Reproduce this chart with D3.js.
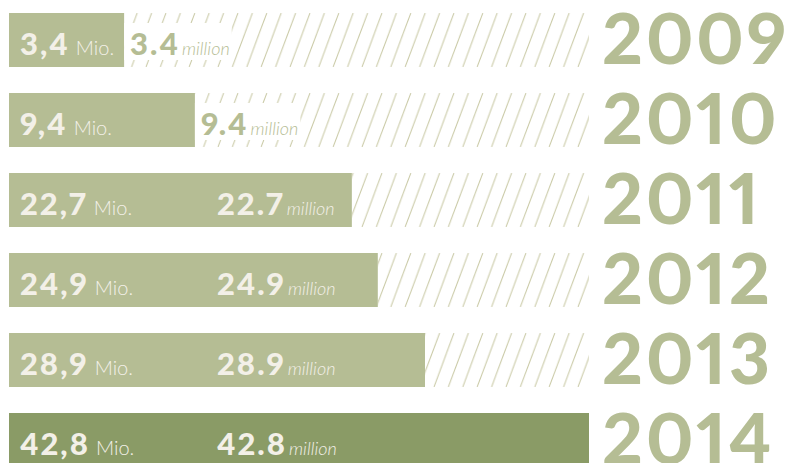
<!DOCTYPE html>
<html>
<head>
<meta charset="utf-8">
<script src="https://cdn.jsdelivr.net/npm/d3@7"></script>
<style>
  body { margin: 0; background: #fff; }
  svg text { font-family: 'Lato', sans-serif; font-variant-numeric: proportional-nums; }
</style>
</head>
<body>
<div id="chart"></div>
<script>
// values in millions
let years = ['2009', '2010', '2011', '2012', '2013', '2014']
let values = [3.4, 9.4, 22.7, 24.9, 28.9, 42.8]
let labelsDe = ['3,4', '9,4', '22,7', '24,9', '28,9', '42,8']
let labelsEn = ['3.4', '9.4', '22.7', '24.9', '28.9', '42.8']

let width = 795
let height = 463

let light = '#b5bd94'
let dark = '#8a9b66'
let cream = '#f3f0e8'

let svg = d3
  .select('#chart')
  .append('svg')
  .attr('width', width)
  .attr('height', height)

let x = d3.scaleLinear().domain([0, 42.8]).range([84, 589])
let y = d3.scaleBand().domain(years).range([13, 467]).paddingInner(0.325).paddingOuter(0)
let bh = y.bandwidth()

// hatch pattern
let pat = svg.append('defs')
  .append('pattern')
  .attr('id', 'hatch')
  .attr('patternUnits', 'userSpaceOnUse')
  .attr('width', 14.4)
  .attr('height', bh)

pat.selectAll('line')
  .data([-1, 0, 1])
  .enter()
  .append('line')
  .attr('x1', d => d * 14.4 + 2)
  .attr('y1', bh)
  .attr('x2', d => d * 14.4 + 22)
  .attr('y2', 0)
  .attr('stroke', '#c9c9a5')
  .attr('stroke-width', 1)

let data = years.map((yr, i) => ({
  year: yr, value: values[i], de: labelsDe[i], en: labelsEn[i]
}))

let rows = svg.selectAll('.row')
  .data(data)
  .enter()
  .append('g')
  .attr('class', 'row')
  .attr('transform', d => 'translate(0,' + y(d.year) + ')')

// hatched remainder
rows.append('rect')
  .attr('x', d => x(d.value))
  .attr('y', 0)
  .attr('width', d => x(42.8) - x(d.value))
  .attr('height', bh)
  .attr('fill', 'url(#hatch)')

// bars
rows.append('rect')
  .attr('x', 9)
  .attr('y', 0)
  .attr('width', d => x(d.value) - 9)
  .attr('height', bh)
  .attr('fill', d => d.year == '2014' ? dark : light)

// german label
let de = rows.append('text')
  .attr('x', 20)
  .attr('y', 42)
  .attr('fill', cream)

de.append('tspan')
  .text(d => d.de)
  .attr('font-size', '31px')
  .attr('font-weight', 900)
  .attr('letter-spacing', 2)

de.append('tspan')
  .text('Mio.')
  .attr('dx', 6)
  .attr('font-size', '20px')
  .attr('font-weight', 300)
  .attr('letter-spacing', 0)

// english label, after the bar if the bar is short
let enX = d => Math.min(x(d.value) + 6, 217)
let outside = d => x(d.value) + 6 < 217

let bg = rows.filter(outside)
  .append('rect')
  .attr('fill', '#fff')

let en = rows.append('text')
  .attr('class', 'en')
  .attr('x', enX)
  .attr('y', 42)
  .attr('fill', d => outside(d) ? light : cream)

en.append('tspan')
  .text(d => d.en)
  .attr('font-size', '31px')
  .attr('font-weight', 900)
  .attr('letter-spacing', 2)

en.append('tspan')
  .text('million')
  .attr('dx', 2)
  .attr('font-size', '18px')
  .attr('font-style', 'italic')
  .attr('font-weight', 300)
  .attr('letter-spacing', 0)

bg.each(function(d) {
  let t = d3.select(this.parentNode).select('.en').node()
  let w = t.getComputedTextLength()
  d3.select(this)
    .attr('x', x(d.value))
    .attr('y', 10)
    .attr('width', enX(d) - x(d.value) + w + 4)
    .attr('height', bh - 17)
})

// years
rows.append('text')
  .text(d => d.year)
  .attr('x', 602)
  .attr('y', 51)
  .attr('fill', light)
  .attr('font-size', '71px')
  .attr('font-weight', 900)
  .attr('letter-spacing', 3)
</script>
</body>
</html>
